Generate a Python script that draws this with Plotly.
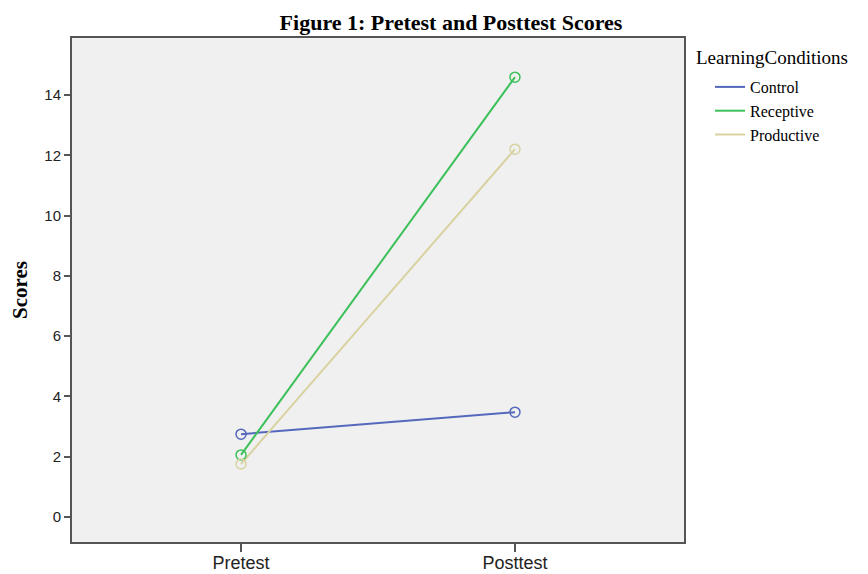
import plotly.graph_objects as go

categories = ["Pretest", "Posttest"]
series_names = ["Control", "Receptive", "Productive"]
control = [2.75, 3.48]
receptive = [2.06, 14.6]
productive = [1.76, 12.21]
colors = ["#5468BC", "#3CC05A", "#D8D2A0"]
y_ticks = [0, 2, 4, 6, 8, 10, 12, 14]
legend_title = "LearningConditions"

# the page body adds an 8px offset; figure size/margins are compensated
W, H, OFF = 860, 566, 8
PL, PR, PT, PB = 72 - OFF, 684 - OFF, 38 - OFF, 542 - OFF
PW, PH = PR - PL, PB - PT

fig = go.Figure()
for name, vals, col in zip(series_names, [control, receptive, productive], colors):
    fig.add_trace(go.Scatter(
        x=[0, 1], y=vals, mode="lines", name=name,
        line=dict(color=col, width=2),
    ))
for name, vals, col in zip(series_names, [control, receptive, productive], colors):
    fig.add_trace(go.Scatter(
        x=[0, 1], y=vals, mode="markers", name=name, showlegend=False,
        marker=dict(symbol="circle-open", size=10, color=col, line=dict(width=1.5)),
    ))

fig.add_annotation(
    text=legend_title, xref="paper", yref="paper",
    x=(694 - OFF - PL) / PW, y=(PB - (58 - OFF)) / PH, xanchor="left", yanchor="middle",
    showarrow=False, font=dict(family="Liberation Serif", size=19, color="black"),
)

fig.update_layout(
    width=W, height=H,
    margin=dict(l=PL, r=W - PR, t=PT, b=H - PB),
    paper_bgcolor="white", plot_bgcolor="#F0F0F0",
    title=dict(text="<b>Figure 1: Pretest and Posttest Scores</b>", x=(451 - OFF) / W, xanchor="center",
               y=1 - (22 - OFF) / H, yanchor="middle",
               font=dict(family="Liberation Serif", size=22, color="black")),
    legend=dict(font=dict(family="Liberation Serif", size=16, color="black"),
                x=(710 - OFF - PL) / PW, xanchor="left", y=(PB - (70 - OFF)) / PH, yanchor="top",
                bgcolor="rgba(0,0,0,0)", tracegroupgap=0, itemwidth=30),
    showlegend=True,
)
fig.update_xaxes(
    range=[-0.617, 1.617], tickvals=[0, 1], ticktext=categories, automargin=False,
    showgrid=False, zeroline=False, showline=True, linecolor="#555555", linewidth=2, mirror=True,
    ticks="outside", ticklen=8, tickcolor="#555555", tickwidth=2, ticklabelstandoff=-5,
    tickfont=dict(family="Liberation Sans", size=18, color="#222222"),
)
fig.update_yaxes(
    range=[-0.83, 15.9], tickvals=y_ticks, automargin=False,
    showgrid=False, zeroline=False, showline=True, linecolor="#555555", linewidth=2, mirror=True,
    ticks="outside", ticklen=6, tickcolor="#555555", tickwidth=2,
    tickfont=dict(family="Liberation Sans", size=15, color="#222222"),
    title=dict(text="<b>Scores</b>", font=dict(family="Liberation Serif", size=21, color="black"), standoff=12),
)
fig.write_html("out.html")
